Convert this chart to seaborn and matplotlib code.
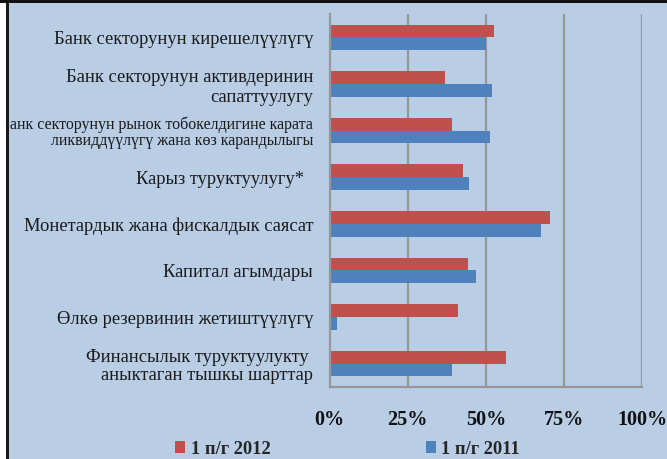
import numpy as np
import pandas as pd
import matplotlib
matplotlib.use("Agg")
import matplotlib.pyplot as plt
from matplotlib.patches import Rectangle
import seaborn as sns

categories = [
    "Банк секторунун кирешелүүлүгү",
    "Банк секторунун активдеринин\nсапаттуулугу",
    "Банк секторунун рынок тобокелдигине карата\nликвиддүүлүгү жана көз карандылыгы",
    "Карыз туруктуулугу*  ",
    "Монетардык жана фискалдык саясат",
    "Капитал агымдары",
    "Өлкө резервинин жетиштүүлүгү",
    "Финансылык туруктуулукту \nаныктаган тышкы шарттар",
]
series_names = ["1 п/г 2012", "1 п/г 2011"]
values_2012 = [52.7, 36.8, 39.1, 42.6, 70.6, 44.2, 41.1, 56.6]
values_2011 = [50.0, 51.9, 51.3, 44.5, 67.5, 46.7, 2.3, 39.1]
x_ticks = [0, 25, 50, 75, 100]
x_tick_labels = ["0%", "25%", "50%", "75%", "100%"]

BG = "#b9cde5"
RED = "#c0504d"
BLUE = "#4f81bd"
GRID = "#979797"

df = pd.DataFrame({
    "category": categories * 2,
    "series": [series_names[0]] * len(categories) + [series_names[1]] * len(categories),
    "value": values_2012 + values_2011,
})

sns.set_style("white")
plt.rcParams["font.family"] = ["Liberation Serif", "DejaVu Serif"]

fig = plt.figure(figsize=(6.67, 4.59), dpi=100, facecolor=BG)
ax = fig.add_axes([329.7 / 667, 1 - 387 / 459, (642 - 329.7) / 667, (387 - 14) / 459])
ax.set_facecolor(BG)

sns.barplot(data=df, y="category", x="value", hue="series", orient="h",
            hue_order=series_names, palette=[RED, BLUE], width=0.545, gap=0,
            ax=ax, legend=True, saturation=1, edgecolor="none")

ax.set_xlim(0, 100)
ax.set_ylim(7.5, -0.5)
ax.set_xlabel("")
ax.set_ylabel("")

# grid
ax.set_xticks(x_ticks)
ax.set_xticklabels(x_tick_labels, fontsize=14.5, fontweight="bold", color="#111111")
for xv in x_ticks[1:]:
    ax.axvline(xv, color=GRID, lw=1.6, zorder=0)

ax.set_yticks(range(len(categories)))
ax.set_yticklabels(categories, fontsize=13.3, color="#1a1a1a", linespacing=1.2)
for i, lab in enumerate(ax.get_yticklabels()):
    if i == 2:
        lab.set_fontsize(11.5)
        lab.set_linespacing(1.05)
    if i == 7:
        lab.set_linespacing(1.1)
ax.set_yticks(np.arange(-0.5, len(categories), 1), minor=True)
ax.tick_params(axis="y", which="major", length=0, pad=12)
ax.tick_params(axis="y", which="minor", length=4, width=1.6, color=GRID, direction="out")
ax.tick_params(axis="x", which="major", length=4, width=1.6, color=GRID, direction="out", pad=12.5)

for s in ["top", "right"]:
    ax.spines[s].set_visible(False)
for s in ["left", "bottom"]:
    ax.spines[s].set_color(GRID)
    ax.spines[s].set_linewidth(1.6)

# legend
handles, labels = ax.get_legend_handles_labels()
ax.get_legend().remove()
leg = fig.legend(handles, labels, loc="center", bbox_to_anchor=(347.5 / 667, 1 - 449 / 459),
                 ncol=2, frameon=False, prop={"family": "Liberation Serif", "weight": "bold", "size": 13.3},
                 handlelength=0.55, handleheight=0.55, handletextpad=0.3, columnspacing=8.4,
                 borderpad=0, borderaxespad=0)

# frame decorations
fig.add_artist(Rectangle((0, 0), 5.5 / 667, 1, transform=fig.transFigure, facecolor="white", edgecolor="none"))
fig.add_artist(Rectangle((5.5 / 667, 0), 3.5 / 667, 1, transform=fig.transFigure, facecolor="#1a1a1a", edgecolor="none"))
fig.add_artist(Rectangle((0, 1 - 2.5 / 459), 1, 2.5 / 459, transform=fig.transFigure, facecolor="#111111", edgecolor="none"))

fig.savefig("out.png", dpi=100, facecolor=BG)
